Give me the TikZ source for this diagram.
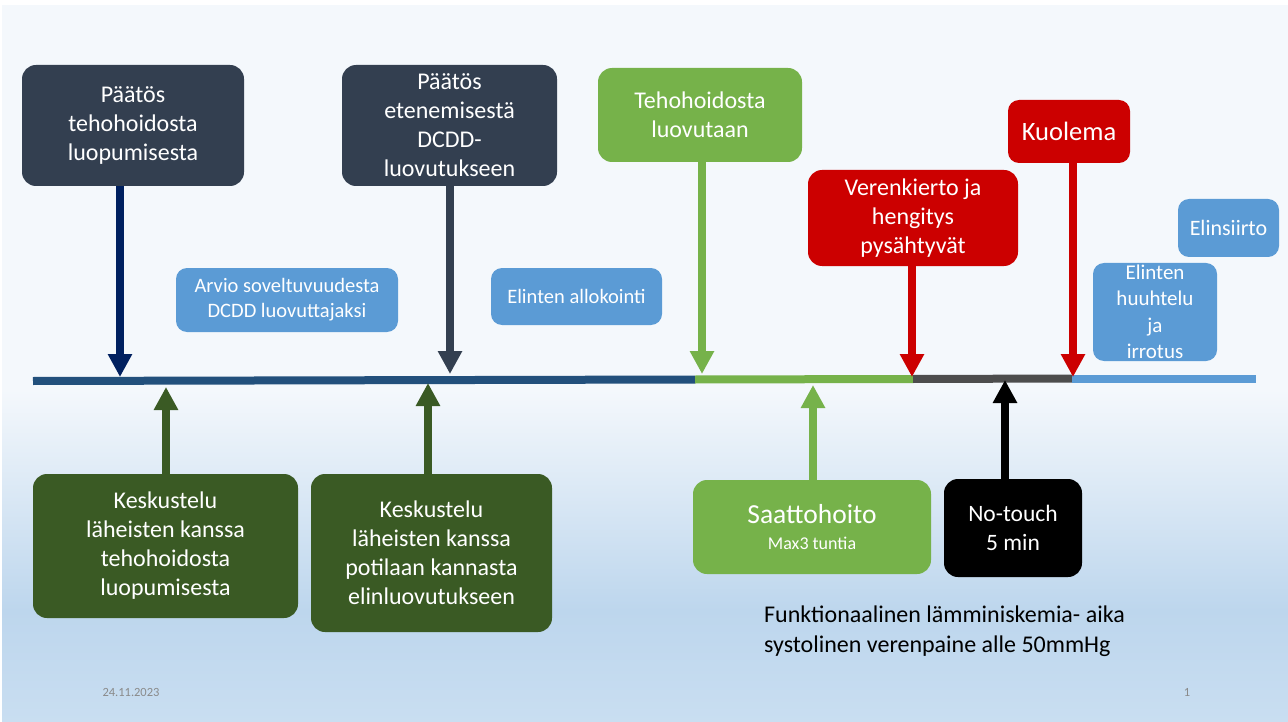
\documentclass[tikz,border=0pt]{standalone}
\usepackage{fontspec}
\setmainfont{Carlito}
\usetikzlibrary{arrows.meta}
\definecolor{bgtop}{HTML}{F4F8FC}
\definecolor{bgmid}{HTML}{BDD6ED}
\definecolor{bgbot}{HTML}{C9DEF1}
\definecolor{navybox}{HTML}{333F50}
\definecolor{navyarrow}{HTML}{002060}
\definecolor{lineblue}{HTML}{22507C}
\definecolor{mygreen}{HTML}{76B24A}
\definecolor{myred}{HTML}{CC0000}
\definecolor{mygray}{HTML}{4D4D4D}
\definecolor{lightblue}{HTML}{5B9BD5}
\definecolor{darkgreen}{HTML}{3A5A24}
\definecolor{footgray}{HTML}{8A8A8A}
\newcommand\mybig{\fontsize{24}{29}\selectfont}
\newcommand\mysmall{\fontsize{20.5}{25}\selectfont}
\begin{document}
\begin{tikzpicture}[x=1pt,y=-1pt,
  box/.style={rounded corners=14pt, inner sep=0pt, align=center, text=white, font=\mybig},
  sbox/.style={box, rounded corners=11pt, font=\mysmall},
  arr/.style={line width=7.5pt, -{Triangle[width=23pt,length=23pt]}},
  tl/.style={line width=8pt}]
\useasboundingbox (0,0) rectangle (1288,722);
% background
\fill[white] (0,0) rectangle (1288,722);
\fill[bgtop] (2,5) rectangle (1288,391);
\shade[top color=bgtop, bottom color=bgmid] (2,390) rectangle (1288,611);
\shade[top color=bgmid, bottom color=bgbot] (2,610) rectangle (1288,722);
% timeline coordinates
\coordinate (l0) at (33,381);
\coordinate (l1) at (695,379.5);
\coordinate (l2) at (913,379);
\coordinate (l3) at (1072,378.5);
\coordinate (l4) at (1256,378.5);
\draw[tl, lineblue] (l0) -- (l1);
\draw[tl, mygreen] (l1) -- (l2);
\draw[tl, mygray] (l2) -- (l3);
\draw[tl, lightblue] (l3) -- (l4);
% top boxes
\node[box, fill=navybox, minimum width=222pt, minimum height=121pt] (p1) at (133,125.5) {Päätös\\tehohoidosta\\luopumisesta};
\node[box, fill=navybox, minimum width=215pt, minimum height=121pt] (p2) at (449.5,125.5) {Päätös\\etenemisestä\\DCDD-\\luovutukseen};
\node[box, fill=mygreen, minimum width=204pt, minimum height=94pt] (p3) at (700,115) {Tehohoidosta\\luovutaan};
\node[box, fill=myred, minimum width=210pt, minimum height=96pt] (p4) at (913,218) {Verenkierto ja\\hengitys\\pysähtyvät};
\node[box, fill=myred, rounded corners=11pt, minimum width=122pt, minimum height=63pt, font=\fontsize{26.5}{30}\selectfont] (p5) at (1069,131.5) {Kuolema};
\node[sbox, fill=lightblue, minimum width=101pt, minimum height=58pt, font=\fontsize{22}{26}\selectfont] (p6) at (1228.5,228) {Elinsiirto};
\node[sbox, fill=lightblue, minimum width=124pt, minimum height=98pt, font=\fontsize{21}{26.5}\selectfont] (p7) at (1155,312) {Elinten\\huuhtelu\\ja\\irrotus};
\node[sbox, fill=lightblue, minimum width=222pt, minimum height=64pt] (p8) at (287,300) {Arvio soveltuvuudesta\\DCDD luovuttajaksi};
\node[sbox, fill=lightblue, minimum width=171pt, minimum height=57pt] (p9) at (576.5,296.5) {Elinten allokointi};
% bottom boxes
\node[box, fill=darkgreen, minimum width=265pt, minimum height=144pt] (k1) at (165.5,546) {Keskustelu\\läheisten kanssa\\tehohoidosta\\luopumisesta};
\node[box, fill=darkgreen, minimum width=241pt, minimum height=158pt] (k2) at (431.5,553) {Keskustelu\\läheisten kanssa\\potilaan kannasta\\elinluovutukseen};
\node[box, fill=mygreen, minimum width=238pt, minimum height=94pt] (k3) at (812,527) {{\fontsize{27.5}{30}\selectfont Saattohoito}\\[-3pt]{\fontsize{18}{20}\selectfont Max3 tuntia}};
\node[box, fill=black, minimum width=138pt, minimum height=98pt, font=\fontsize{23.5}{29}\selectfont] (k4) at (1013,528) {No-touch\\5 min};
% arrow end coordinates
\coordinate (t1) at (120,377);
\coordinate (t2) at (450,374);
\coordinate (t3) at (702,374);
\coordinate (t4) at (912,377);
\coordinate (t5) at (1073,377);
\coordinate (u1) at (166,387);
\coordinate (u2) at (428,383);
\coordinate (u3) at (813,385);
\coordinate (u4) at (1005,380);
\draw[arr, navyarrow] (p1.south -| t1) -- (t1);
\draw[arr, navybox] (p2.south -| t2) -- (t2);
\draw[arr, mygreen] (p3.south -| t3) -- (t3);
\draw[arr, myred] (p4.south -| t4) -- (t4);
\draw[arr, myred] (p5.south -| t5) -- (t5);
\draw[arr, darkgreen] (k1.north -| u1) -- (u1);
\draw[arr, darkgreen] (k2.north -| u2) -- (u2);
\draw[arr, mygreen] (k3.north -| u3) -- (u3);
\draw[arr, black] (k4.north -| u4) -- (u4);
% notes
\node[anchor=west, align=left, inner sep=0pt, font=\fontsize{24}{29.5}\selectfont, text=black] (note) at (764,631) {Funktionaalinen lämminiskemia- aika\\systolinen verenpaine alle 50mmHg};
\node[inner sep=0pt, font=\fontsize{12.5}{14}\selectfont, text=footgray] (date) at (131,692) {24.11.2023};
\node[inner sep=0pt, font=\fontsize{12.5}{14}\selectfont, text=footgray] (page) at (1187,692) {1};
\end{tikzpicture}
\end{document}
